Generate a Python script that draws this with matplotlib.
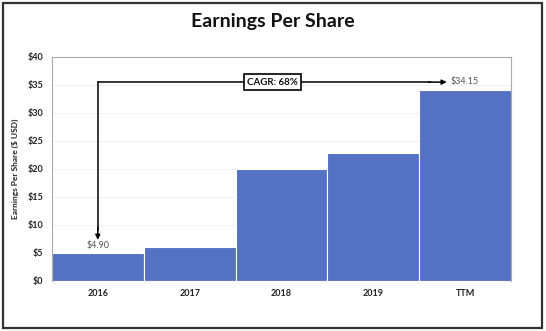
import matplotlib
matplotlib.use("Agg")
import matplotlib.pyplot as plt
from matplotlib.patches import Rectangle
from matplotlib.ticker import FuncFormatter, MultipleLocator

categories = ["2016", "2017", "2018", "2019", "TTM"]
eps = [4.90, 6.05, 20.0, 22.9, 34.15]
labelled = {0: "$4.90", 4: "$34.15"}
cagr_text = "CAGR: 68%"

plt.rcParams["font.family"] = ["Lato", "DejaVu Sans"]

fig = plt.figure(figsize=(5.46, 3.31), dpi=100)
fig.patch.set_facecolor("white")
fig.add_artist(Rectangle((0.006, 0.009), 0.986, 0.982, transform=fig.transFigure,
                         fill=False, edgecolor="#333333", linewidth=1.6))

ax = fig.add_axes([0.095, 0.152, 0.841, 0.676])
x = list(range(len(categories)))
ax.bar(x, eps, width=1.0, color="#5571C4", edgecolor="white", linewidth=0.8, zorder=2)

ax.set_xlim(-0.5, len(categories) - 0.5)
ax.set_ylim(0, 40)
ax.yaxis.set_major_locator(MultipleLocator(5))
ax.yaxis.set_major_formatter(FuncFormatter(lambda v, _: f"${v:.0f}"))
ax.set_xticks(x)
ax.set_xticklabels(categories, fontsize=6.5, fontweight="bold", color="#222222")
for t in ax.get_yticklabels():
    t.set_fontsize(6.5)
    t.set_fontweight("bold")
    t.set_color("#222222")
ax.tick_params(length=0, pad=6)
ax.grid(axis="y", color="#eeeeee", linewidth=0.6, zorder=0)
for s in ["left", "top", "right"]:
    ax.spines[s].set_color("#aaaaaa")
    ax.spines[s].set_linewidth(0.8)
ax.spines["bottom"].set_visible(False)
ax.set_ylabel("Earnings Per Share ($ USD)", fontsize=6, fontweight="bold",
              color="#222222", labelpad=6)

for i, txt in labelled.items():
    ax.text(x[i], eps[i] + 0.6, txt, ha="center", va="bottom",
            fontsize=6.5, color="#555555")

# CAGR connector: down to the first bar, across to the last
y_line = 35.5
ax.plot([x[0], x[0]], [9.0, y_line], color="black", linewidth=1.1, zorder=3)
ax.plot([x[0], 3.62], [y_line, y_line], color="black", linewidth=1.1, zorder=3)
ax.annotate("", xy=(x[0], 7.3), xytext=(x[0], 9.5),
            arrowprops=dict(arrowstyle="-|>", color="black", lw=1.1,
                            mutation_scale=7, shrinkA=0, shrinkB=0), zorder=3)
ax.annotate("", xy=(3.8, y_line), xytext=(3.6, y_line),
            arrowprops=dict(arrowstyle="-|>", color="black", lw=1.1,
                            mutation_scale=7, shrinkA=0, shrinkB=0), zorder=3)
ax.text(1.9, y_line, cagr_text, ha="center", va="center", fontsize=7,
        fontweight="bold", color="#111111", zorder=4,
        bbox=dict(boxstyle="square,pad=0.35", facecolor="white",
                  edgecolor="black", linewidth=1.2))

fig.text(0.5, 0.935, "Earnings Per Share", ha="center", va="center",
         fontsize=14, fontweight="bold", color="#111111")

fig.savefig("out.png", dpi=100)
